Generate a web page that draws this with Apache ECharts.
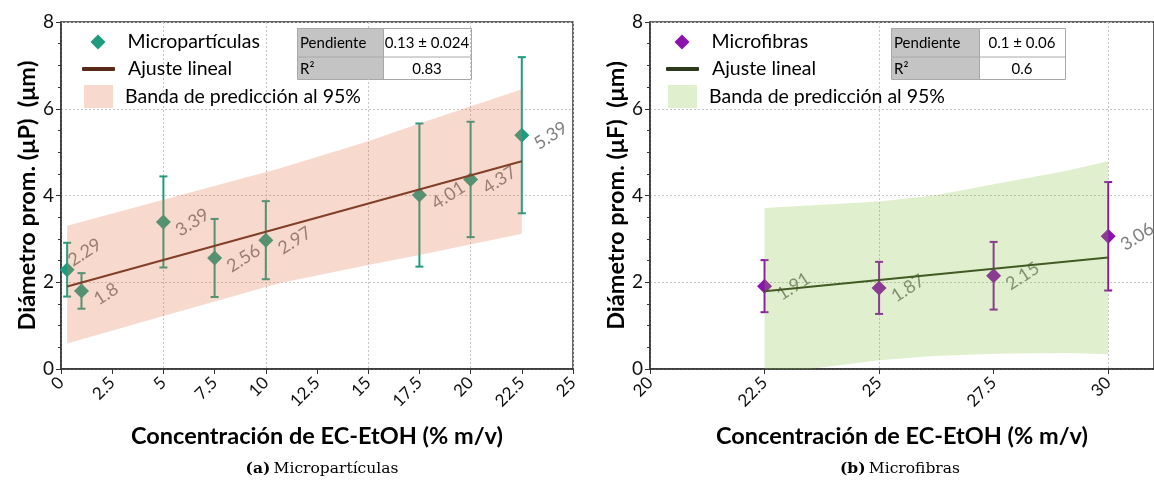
<!DOCTYPE html>
<html><head><meta charset="utf-8">
<script src="https://cdn.jsdelivr.net/npm/echarts@6/dist/echarts.min.js"></script>
<style>html,body{margin:0;padding:0;background:#fff}#c{width:1154px;height:486px}</style>
</head><body><div id="c"></div>
<script>
// ---- Data: (a) Micropartículas ----
const concP = [0.3, 1, 5, 7.5, 10, 17.5, 20, 22.5];
const diamP = [2.29, 1.8, 3.39, 2.56, 2.97, 4.01, 4.37, 5.39];
const errP  = [0.62, 0.41, 1.05, 0.9, 0.9, 1.65, 1.33, 1.8];
const fitXP = [0.3, 22.5];
const fitYP = [1.90, 4.79];
const bandXP  = [0.3, 5, 10.7, 15, 17.5, 22.5];
const bandUpP = [3.3, 3.9, 4.63, 5.25, 5.66, 6.45];
const bandLoP = [0.59, 1.22, 1.98, 2.4, 2.63, 3.12];
const tableP = ['Pendiente', '0.13 ± 0.024', 'R²', '0.83'];

// ---- Data: (b) Microfibras ----
const concF = [22.5, 25, 27.5, 30];
const diamF = [1.91, 1.87, 2.15, 3.06];
const errF  = [0.6, 0.6, 0.78, 1.25];
const fitXF = [22.5, 30];
const fitYF = [1.79, 2.57];
const bandXF  = [22.5, 25, 26.2, 27.5, 29.1, 30];
const bandUpF = [3.71, 3.86, 4.0, 4.26, 4.57, 4.79];
const bandLoF = [-0.13, 0.2, 0.3, 0.35, 0.37, 0.34];
const tableF = ['Pendiente', '0.1 ± 0.06', 'R²', '0.6'];

const names = {
  ptsP: 'Micropartículas', ptsF: 'Microfibras',
  fit: 'Ajuste lineal', band: 'Banda de predicción al 95%',
  yP: 'Diámetro prom. (μP)  (μm)', yF: 'Diámetro prom. (μF)  (μm)',
  x: 'Concentración de EC-EtOH (% m/v)',
  capA: ['(a)', 'Micropartículas'], capB: ['(b)', 'Microfibras']
};

const SANS = 'Lato';
const colP = '#1f9b7f', colF = '#8c12ad';
const fitColP = '#5a2a18', fitColF = '#2c3a1c';
const bandColP = 'rgba(230,120,80,0.28)', bandColF = 'rgba(130,190,60,0.25)';
const gridDash = {color: '#c4c4c4', type: [2, 2], width: 1};

const chart = echarts.init(document.getElementById('c'), null, {renderer: 'canvas'});

function errBarSeries(xi, yi, x, y, e, col) {
  return {
    type: 'custom', xAxisIndex: xi, yAxisIndex: yi, z: 3, silent: true,
    data: x.map((v, i) => [v, y[i], e[i]]),
    encode: {x: 0, y: 1},
    renderItem(params, api) {
      const cx = api.value(0), cy = api.value(1), ee = api.value(2);
      const t = api.coord([cx, cy + ee]), b = api.coord([cx, cy - ee]);
      const w = 4, st = {stroke: col, lineWidth: 2};
      return {type: 'group', children: [
        {type: 'line', shape: {x1: t[0], y1: t[1], x2: b[0], y2: b[1]}, style: st},
        {type: 'line', shape: {x1: t[0] - w, y1: t[1], x2: t[0] + w, y2: t[1]}, style: st},
        {type: 'line', shape: {x1: b[0] - w, y1: b[1], x2: b[0] + w, y2: b[1]}, style: st}
      ]};
    }
  };
}
function bandSeries(xi, yi, bx, up, lo, col) {
  return {
    name: names.band, type: 'custom', xAxisIndex: xi, yAxisIndex: yi, z: 10, silent: true, clip: true,
    itemStyle: {color: col},
    data: bx.map((v, i) => [v, up[i], lo[i]]),
    encode: {x: 0, y: [1, 2]},
    renderItem(params, api) {
      if (params.dataIndex !== 0) return null;
      const pts = [];
      for (let i = 0; i < bx.length; i++) pts.push(api.coord([bx[i], up[i]]));
      for (let i = bx.length - 1; i >= 0; i--) pts.push(api.coord([bx[i], lo[i]]));
      return {type: 'polygon', shape: {points: pts}, style: {fill: col}};
    }
  };
}
function scatterSeries(name, xi, yi, x, y, col) {
  return {
    name, type: 'scatter', xAxisIndex: xi, yAxisIndex: yi, z: 4,
    symbol: 'diamond', symbolSize: 15, itemStyle: {color: col, opacity: 1},
    data: x.map((v, i) => (i === 0 && x.length > 4)
      ? {value: [v, y[i]], label: {offset: [0, -18]}}
      : [v, y[i]]),
    label: {
      show: true, position: 'right', distance: 0, rotate: 33, align: 'left', verticalAlign: 'top',
      offset: [0, 3],
      formatter: p => String(p.value[1]), color: '#808080', fontSize: 18, fontFamily: SANS
    }
  };
}
function lineSeries(xi, yi, x, y, col) {
  return {
    name: names.fit, type: 'line', xAxisIndex: xi, yAxisIndex: yi, z: 5, symbol: 'none',
    lineStyle: {color: col, width: 2}, itemStyle: {color: col},
    data: x.map((v, i) => [v, y[i]])
  };
}
function xAxes(gi, min, max) {
  return [{
    gridIndex: gi, type: 'value', min, max, interval: 2.5,
    name: names.x, nameLocation: 'middle', nameGap: 55,
    nameTextStyle: {fontFamily: SANS, fontWeight: 'bold', fontSize: 23.5, color: '#000'},
    axisLine: {onZero: false, lineStyle: {color: '#333', width: 1.5}},
    axisTick: {show: true, length: 5, lineStyle: {color: '#333'}},
    axisLabel: {rotate: 45, fontFamily: SANS, fontSize: 17, color: '#111', margin: 11, showMaxLabel: max % 2.5 === 0,
      formatter: v => String(v)},
    splitLine: {show: false}
  }, {
    gridIndex: gi, type: 'value', min, max, interval: 5, position: 'bottom',
    axisLine: {show: false}, axisTick: {show: false}, axisLabel: {show: false},
    splitLine: {show: true, lineStyle: gridDash}
  }];
}
function yAxis(gi, name) {
  return {
    gridIndex: gi, type: 'value', min: 0, max: 8, interval: 2,
    name, nameLocation: 'middle', nameGap: 21,
    nameTextStyle: {fontFamily: SANS, fontWeight: 'bold', fontSize: 23.5, color: '#000'},
    axisLine: {show: true, lineStyle: {color: '#333', width: 1.5}},
    axisTick: {show: true, length: 5, lineStyle: {color: '#333'}},
    minorTick: {show: true, splitNumber: 4, length: 3, lineStyle: {color: '#333'}},
    axisLabel: {fontFamily: SANS, fontSize: 19, color: '#111', margin: 7},
    splitLine: {show: true, lineStyle: gridDash}
  };
}
function legends(ox, ptsName, col, fitCol, bandCol) {
  const ts = (pad) => ({fontFamily: SANS, fontSize: 19.5, color: '#000', padding: [0, 0, 0, pad]});
  return [
    {left: ox + 29.5, top: 32, padding: 0, itemWidth: 15, itemHeight: 15, selectedMode: false,
      data: [{name: ptsName, icon: 'diamond', itemStyle: {color: col}}], textStyle: ts(17)},
    {left: ox + 21, top: 59, padding: 0, itemWidth: 33, itemHeight: 4, selectedMode: false,
      data: [{name: names.fit, icon: 'roundRect', itemStyle: {color: fitCol}}], textStyle: ts(8)},
    {left: ox + 23, top: 85, padding: 0, itemWidth: 29, itemHeight: 23, selectedMode: false,
      data: [{name: names.band, icon: 'rect', itemStyle: {color: bandCol}}], textStyle: ts(7)}
  ];
}
function table(x0, xs, x1, vals) {
  const y0 = 28, ym = 56.5, y1 = 79;
  const brd = '#a8a8a8';
  const tx = (t, x, y, align, fs) => ({type: 'text', x, y, style: {text: t, fill: '#000', font: fs + 'px ' + SANS, textAlign: align, textVerticalAlign: 'middle'}});
  return [
    {type: 'rect', shape: {x: x0, y: y0, width: xs - x0, height: y1 - y0}, style: {fill: '#c4c4c4', stroke: null}},
    {type: 'rect', shape: {x: x0 + 0.5, y: y0 + 0.5, width: x1 - x0, height: y1 - y0}, style: {fill: null, stroke: brd, lineWidth: 1}},
    {type: 'line', shape: {x1: xs + 0.5, y1: y0, x2: xs + 0.5, y2: y1}, style: {stroke: brd, lineWidth: 1}},
    {type: 'line', shape: {x1: x0, y1: ym + 0.5, x2: x1, y2: ym + 0.5}, style: {stroke: brd, lineWidth: 1}},
    tx(vals[0], x0 + 3, (y0 + ym) / 2 + 1, 'left', 15),
    tx(vals[1], (xs + x1) / 2, (y0 + ym) / 2 + 1, 'center', 15),
    tx(vals[2], x0 + 3, (ym + y1) / 2 + 1, 'left', 15),
    tx(vals[3], (xs + x1) / 2, (ym + y1) / 2 + 1, 'center', 15)
  ];
}
function caption(cx, parts) {
  return {type: 'text', x: cx, y: 469, style: {
    text: '{b|' + parts[0] + '} {n|' + parts[1] + '}', textAlign: 'center', textVerticalAlign: 'middle',
    rich: {b: {fontFamily: 'DejaVu Serif', fontWeight: 'bold', fontSize: 15.5, fill: '#000'},
           n: {fontFamily: 'DejaVu Serif', fontSize: 15.5, fill: '#000'}}
  }};
}

const option = {
  animation: false,
  backgroundColor: '#fff',
  grid: [
    {left: 61, top: 22, width: 512, height: 347, show: true, borderColor: '#333', borderWidth: 1.5, backgroundColor: 'transparent'},
    {left: 650, top: 22, width: 512, height: 347, show: true, borderColor: '#333', borderWidth: 1.5, backgroundColor: 'transparent'}
  ],
  xAxis: [...xAxes(0, 0, 25), ...xAxes(1, 20, 31)],
  yAxis: [yAxis(0, names.yP), yAxis(1, names.yF)],
  legend: [...legends(61, names.ptsP, colP, fitColP, bandColP), ...legends(645, names.ptsF, colF, fitColF, bandColF)],
  graphic: [...table(297, 383, 471, tableP), ...table(891, 979, 1065, tableF), caption(322, names.capA), caption(900, names.capB)],
  series: [
    errBarSeries(0, 0, concP, diamP, errP, colP),
    scatterSeries(names.ptsP, 0, 0, concP, diamP, colP),
    lineSeries(0, 0, fitXP, fitYP, fitColP),
    bandSeries(0, 0, bandXP, bandUpP, bandLoP, bandColP),
    errBarSeries(2, 1, concF, diamF, errF, colF),
    scatterSeries(names.ptsF, 2, 1, concF, diamF, colF),
    lineSeries(2, 1, fitXF, fitYF, fitColF),
    bandSeries(2, 1, bandXF, bandUpF, bandLoF, bandColF)
  ]
};
chart.setOption(option);
</script>
</body></html>
